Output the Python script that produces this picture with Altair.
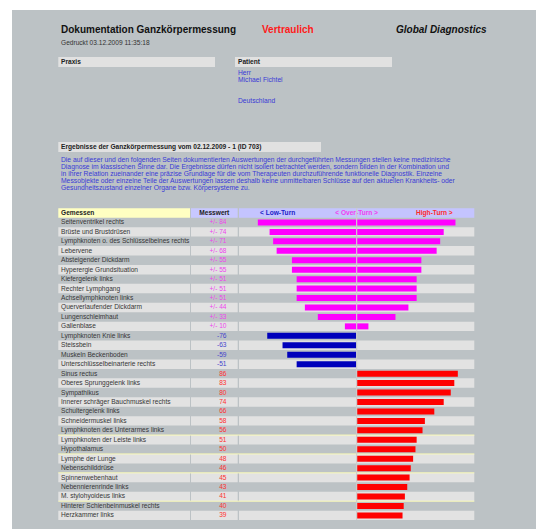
import altair as alt
import pandas as pd

FONT = "Liberation Sans"

# ---------------- data ----------------
names = [
    "Seitenventrikel rechts", "Brüste und Brustdrüsen", "Lymphknoten o. des Schlüsselbeines rechts",
    "Lebervene", "Absteigender Dickdarm", "Hyperergie Grundsituation", "Kiefergelenk links",
    "Rechter Lymphgang", "Achsellymphknoten links", "Querverlaufender Dickdarm", "Lungenschleimhaut",
    "Gallenblase", "Lymphknoten Knie links", "Steissbein", "Muskeln Beckenboden",
    "Unterschlüsselbeinarterie rechts", "Sinus rectus", "Oberes Sprunggelenk links", "Sympathikus",
    "Innerer schräger Bauchmuskel rechts", "Schultergelenk links", "Schneidermuskel links",
    "Lymphknoten des Unterarmes links", "Lymphknoten der Leiste links", "Hypothalamus",
    "Lymphe der Lunge", "Nebenschilddrüse", "Spinnenwebenhaut", "Nebennierenrinde links",
    "M. stylohyoideus links", "Hinterer Schienbeinmuskel rechts", "Herzkammer links",
]
values = [84, 74, 71, 68, 55, 55, 51, 51, 51, 44, 33, 10,
          -76, -63, -59, -51,
          86, 83, 80, 74, 66, 58, 56, 51, 50, 48, 46, 45, 43, 41, 40, 39]
kinds = ["over"] * 12 + ["low"] * 4 + ["high"] * 16
yellow_line_rows = ["Lymphknoten der Leiste links", "Lymphe der Lunge",
                    "Spinnenwebenhaut", "Hinterer Schienbeinmuskel rechts"]

paragraph = [
    "Die auf dieser und den folgenden Seiten dokumentierten Auswertungen der durchgeführten Messungen stellen keine medizinische",
    "Diagnose im klassischen Sinne dar. Die Ergebnisse dürfen nicht isoliert betrachtet werden, sondern bilden in der Kombination und",
    "in ihrer Relation zueinander eine präzise Grundlage für die vom Therapeuten durchzuführende funktionelle Diagnostik. Einzelne",
    "Messobjekte oder einzelne Teile der Auswertungen lassen deshalb keine unmittelbaren Schlüsse auf den aktuellen Krankheits- oder",
    "Gesundheitszustand einzelner Organe bzw. Körpersysteme zu.",
]
patient_lines = ["Herr", "Michael Fichtel", "Deutschland"]

rows = pd.DataFrame({"name": names, "value": values, "kind": kinds})
rows["idx"] = range(len(rows))
rows["shade"] = rows["idx"] % 2
rows["lo"] = [(-abs(v) if k == "over" else (v if k == "low" else 0)) for v, k in zip(values, kinds)]
rows["hi"] = [(abs(v) if k == "over" else (0 if k == "low" else v)) for v, k in zip(values, kinds)]
rows["label"] = [("+/- %d" % v if k == "over" else str(v)) for v, k in zip(values, kinds)]

# ---------------- scales ----------------
ROW_TOP, ROW_BOTTOM = 217.7, 520.1
yscale = alt.Scale(type="band", domain=names, range=[ROW_TOP, ROW_BOTTOM], paddingInner=0, paddingOuter=0)
xscale = alt.Scale(domain=[-100, 100], range=[239, 474.3], nice=False, zero=False)

one = alt.Data(values=[{}])


def box(x1, x2, y1, y2, color):
    return alt.Chart(one).mark_rect(color=color).encode(
        x=alt.value(x1), x2=alt.value(x2), y=alt.value(y1), y2=alt.value(y2))


def txt(s, x, y, size=6.6, color="#222222", weight="normal", style="normal",
        align="left", baseline="middle"):
    return alt.Chart(one).mark_text(
        text=s, font=FONT, fontSize=size, color=color, fontWeight=weight, fontStyle=style,
        align=align, baseline=baseline).encode(x=alt.value(x), y=alt.value(y))


layers = []
# page panel
layers.append(box(12, 536, 10, 529, "#bcc2c5"))

# header texts
layers.append(txt("Dokumentation Ganzkörpermessung", 61, 33, size=10, color="#111111",
                  weight="bold", baseline="alphabetic"))
layers.append(txt("Vertraulich", 262, 33, size=10, color="#ff1a1a", weight="bold", baseline="alphabetic"))
layers.append(txt("Global Diagnostics", 396, 33, size=10, color="#111111", weight="bold",
                  style="italic", baseline="alphabetic"))
layers.append(txt("Gedruckt 03.12.2009 11:35:18", 61, 44.5, size=6.6, color="#333333",
                  baseline="alphabetic"))

# Praxis / Patient boxes
layers.append(box(58.3, 215, 57, 67, "#e1e1e1"))
layers.append(box(235, 392, 57, 67, "#e1e1e1"))
layers.append(txt("Praxis", 61, 62, weight="bold", color="#222222"))
layers.append(txt("Patient", 238, 62, weight="bold", color="#222222"))
for line, yy in zip(patient_lines, [73, 80, 101]):
    layers.append(txt(line, 238, yy, size=6.7, color="#3a3ad6"))

# Ergebnisse box + paragraph
layers.append(box(58.3, 321, 142, 152, "#e1e1e1"))
layers.append(txt("Ergebnisse der Ganzkörpermessung vom 02.12.2009 - 1 (ID 703)", 61, 147,
                  weight="bold", color="#222222"))
for i, line in enumerate(paragraph):
    layers.append(txt(line, 61, 160.3 + 7.0 * i, size=6.75, color="#3a3ad6"))

# table header
HEAD_TOP, HEAD_BOT = 208.3, ROW_TOP
layers.append(box(58.3, 190, HEAD_TOP, HEAD_BOT, "#ffffc2"))
layers.append(box(191, 237.7, HEAD_TOP, HEAD_BOT, "#c8c8ff"))
layers.append(box(239, 474.3, HEAD_TOP, HEAD_BOT, "#c4c4ff"))
layers.append(txt("Gemessen", 61, 213, weight="bold", color="#222222"))
layers.append(txt("Messwert", 214.3, 213, weight="bold", color="#222222", align="center"))
layers.append(txt("< Low-Turn", 260, 213, weight="bold", color="#2020c8"))
layers.append(txt("< Over-Turn >", 356.6, 213, weight="bold", color="#f040f0", align="center"))
layers.append(txt("High-Turn >", 416, 213, weight="bold", color="#ff2a2a"))

# row backgrounds
Y = alt.Y("name:N", scale=yscale, axis=None)
for x1, x2 in [(58.3, 190), (191, 237.7), (239, 474.3)]:
    layers.append(
        alt.Chart(rows).transform_filter(alt.datum.shade == 1).mark_rect(color="#e2e2e2").encode(
            y=Y, x=alt.value(x1), x2=alt.value(x2)))

# yellow separator lines
layers.append(
    alt.Chart(rows).transform_filter(alt.FieldOneOfPredicate(field="name", oneOf=yellow_line_rows))
    .mark_rule(color="#fbfbb8", strokeWidth=1)
    .encode(y=alt.Y("name:N", scale=yscale, axis=None, bandPosition=0),
            x=alt.value(58.3), x2=alt.value(474.3)))

# bars
bar_colors = {"over": "#ff00ff", "low": "#0000bb", "high": "#ff0000"}
for k, c in bar_colors.items():
    layers.append(
        alt.Chart(rows).transform_filter(alt.datum.kind == k).mark_bar(color=c, size=6).encode(
            x=alt.X("lo:Q", scale=xscale, axis=None), x2="hi:Q", y=Y))

# center line
layers.append(
    alt.Chart(alt.Data(values=[{"v": 0}])).mark_rule(color="#cdcdcd", strokeWidth=1.2).encode(
        x=alt.X("v:Q", scale=xscale, axis=None), y=alt.value(HEAD_TOP), y2=alt.value(ROW_BOTTOM)))

# row labels
layers.append(
    alt.Chart(rows).mark_text(font=FONT, fontSize=6.6, color="#363636", align="left",
                              baseline="middle").encode(x=alt.value(61), y=Y, text="name:N"))

# values
text_colors = {"over": "#ee44ee", "low": "#4444cc", "high": "#ff3030"}
for k, c in text_colors.items():
    layers.append(
        alt.Chart(rows).transform_filter(alt.datum.kind == k).mark_text(
            font=FONT, fontSize=6.6, color=c, align="right", baseline="middle").encode(
            x=alt.value(226.5), y=Y, text="label:N"))

chart = alt.layer(*layers).properties(
    width=542, height=529, padding=0,
    autosize=alt.AutoSizeParams(type="none"), background="white",
).configure_view(stroke=None)

chart.save("out.html", embed_options={"renderer": "svg", "actions": False})
